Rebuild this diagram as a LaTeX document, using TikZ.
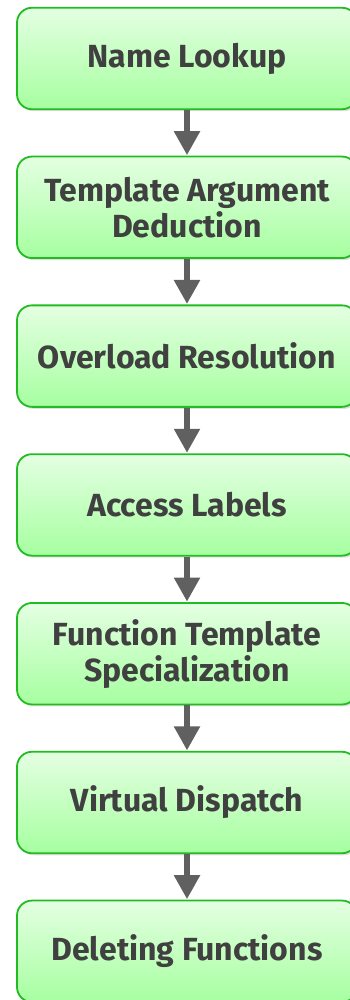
\documentclass[tikz,border=0pt]{standalone}
\usepackage{fontspec}
\setmainfont{Fira Sans}
\usetikzlibrary{arrows.meta,positioning,shadows}

\definecolor{boxline}{HTML}{22BB22}
\definecolor{boxtop}{HTML}{E4FFE2}
\definecolor{boxbottom}{HTML}{A6FFA0}
\definecolor{arrowgray}{HTML}{606060}
\definecolor{textgray}{HTML}{404040}

\tikzset{
  stage/.style={draw=boxline, line width=1.8pt, rounded corners=15pt,
    top color=boxtop, bottom color=boxbottom,
    minimum width=340pt, minimum height=101.5pt,
    align=center, text=textgray, font=\fontsize{32}{36}\selectfont\bfseries,
    drop shadow={shadow xshift=2pt, shadow yshift=-2pt, opacity=0.25}},
  flow/.style={draw=arrowgray, line width=5.5pt,
    -{Triangle[width=25pt,length=24pt]}, shorten >=0.5pt}
}

\begin{document}
\begin{tikzpicture}[x=1pt, y=1pt, node distance=45.5pt]
  \useasboundingbox (0,0) rectangle (349,-1000);
  \node[stage] (lookup) at (187,-58.5) {Name Lookup};
  \node[stage, below=of lookup] (deduction) {Template Argument\\Deduction};
  \node[stage, below=of deduction] (overload) {Overload Resolution};
  \node[stage, below=of overload] (access) {Access Labels};
  \node[stage, below=of access] (special) {Function Template\\Specialization};
  \node[stage, below=of special] (dispatch) {Virtual Dispatch};
  \node[stage, below=of dispatch] (deleting) {Deleting Functions};
  \foreach \from/\to in {lookup/deduction, deduction/overload, overload/access,
                         access/special, special/dispatch, dispatch/deleting}
    \draw[flow] (\from) -- (\to);
\end{tikzpicture}
\end{document}
